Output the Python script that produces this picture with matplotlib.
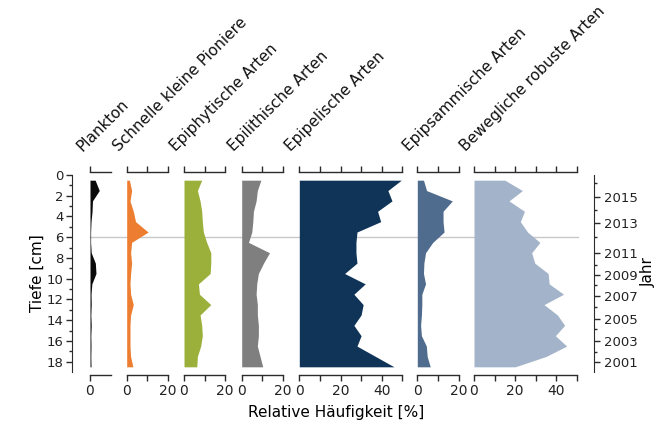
import matplotlib
matplotlib.use('Agg')
import matplotlib.pyplot as plt
import matplotlib.transforms as mtransforms
from matplotlib.lines import Line2D
import numpy as np

# sample depths (cm), one value per centimetre slice
depths = [0.5 + i for i in range(19)]

plankton = [2.5, 4.5, 1.2, 1.0, 0.5, 0.3, 0.3, 0.6, 2.6, 2.9, 0.9, 0.5, 0.6, 0.4, 0.6, 0.4, 0.5, 0.4, 0.5]
schnelle = [1.3, 2.4, 1.6, 3.2, 4.3, 10.4, 2.4, 1.9, 2.4, 1.9, 1.6, 1.9, 3.2, 1.9, 1.6, 1.6, 1.6, 1.9, 3.0]
epiphyt = [8.6, 6.5, 7.8, 8.6, 8.9, 9.4, 11.0, 13.0, 13.0, 12.7, 7.0, 7.5, 13.0, 7.8, 8.6, 8.9, 8.1, 6.5, 6.2]
epilith = [9.3, 7.6, 7.0, 5.7, 5.4, 4.9, 3.3, 13.5, 10.6, 8.1, 7.3, 7.0, 7.6, 7.6, 8.1, 8.1, 7.6, 8.9, 10.2]
epipel = [49.5, 43.0, 45.0, 38.0, 39.5, 28.0, 27.5, 27.5, 28.0, 22.0, 32.0, 26.5, 31.0, 30.0, 26.5, 30.0, 28.0, 37.0, 46.0]
epipsam = [3.0, 4.5, 17.0, 12.5, 12.5, 13.0, 7.5, 4.0, 3.2, 3.0, 4.0, 2.2, 2.2, 2.0, 1.6, 2.0, 4.4, 4.8, 6.3]
beweg = [15.0, 23.5, 17.0, 24.5, 22.5, 26.0, 32.0, 28.0, 29.5, 36.0, 36.5, 43.5, 34.0, 40.5, 44.0, 39.5, 45.0, 35.0, 20.0]

names = ['Plankton', 'Schnelle kleine Pioniere', 'Epiphytische Arten', 'Epilithische Arten',
         'Epipelische Arten', 'Epipsammische Arten', 'Bewegliche robuste Arten']
series = [plankton, schnelle, epiphyt, epilith, epipel, epipsam, beweg]
xmaxes = [10, 20, 20, 20, 50, 20, 50]
colors = ['#0a0a0a', '#ED7D31', '#9BB03A', '#7F7F7F', '#0F3458', '#4F6B8D', '#A3B4CA']

# year scale on the right (depth of each year mark)
years = [2015, 2013, 2011, 2009, 2007, 2005, 2003, 2001]
year_depths = [2.12, 4.65, 7.55, 9.63, 11.65, 13.87, 16.0, 18.0]
minor_year_depths = [0.8, 3.38, 5.96, 8.7, 10.6, 12.7, 14.9, 17.07]

marker_depth = 6

W, H = 657, 425
fig = plt.figure(figsize=(W / 100, H / 100), dpi=100)
y_top, y_bot = 175, 372
bottom = 1 - y_bot / H
height = (y_bot - y_top) / H
pxu = 2.06
lefts = [90, 126.7, 184, 241.7, 299.3, 417.3, 474]
spc = '#2b2b2b'

for name, vals, col, left, xmax in zip(names, series, colors, lefts, xmaxes):
    ax = fig.add_axes([left / W, bottom, xmax * pxu / W, height])
    ax.set_facecolor('none')
    ax.fill_betweenx(depths, 0, vals, color=col, lw=0)
    ax.set_xlim(0, xmax)
    ax.set_ylim(19, 0)
    for s in ['left', 'right']:
        ax.spines[s].set_visible(False)
    for s in ['top', 'bottom']:
        ax.spines[s].set_position(('outward', 2.2))
        ax.spines[s].set_color(spc)
        ax.spines[s].set_linewidth(1.0)
    ax.set_yticks([])
    if xmax == 10:
        ticks = [0]
    else:
        ticks = list(range(0, xmax + 1, 10))
    ax.set_xticks(ticks)
    ax.set_xticklabels([str(t) if t % 20 == 0 else '' for t in ticks])
    ax.tick_params(axis='x', top=True, bottom=True, labeltop=False, direction='out',
                   length=4, width=1.0, color=spc, labelsize=10, pad=2.5, labelcolor='#222222')
    fig.text((left - 8) / W, 1 - 152 / H, name, rotation=45, rotation_mode='anchor',
             ha='left', va='baseline', fontsize=11, color='#111111')

# depth axis
ax_d = fig.add_axes([71.7 / W, bottom, 0.0001, height])
ax_d.set_facecolor('none')
ax_d.set_ylim(19, 0)
for s in ['top', 'bottom', 'right']:
    ax_d.spines[s].set_visible(False)
ax_d.spines['left'].set_color(spc)
ax_d.set_xticks([])
ax_d.set_yticks(range(0, 19, 2))
ax_d.set_yticks(range(1, 18, 2), minor=True)
ax_d.tick_params(axis='y', which='major', length=4, width=1.0, color=spc, labelsize=9.5, pad=2, labelcolor='#222222')
ax_d.tick_params(axis='y', which='minor', length=2.5, width=1.0, color=spc)
ax_d.set_ylabel('Tiefe [cm]', fontsize=11, labelpad=1)

# year axis
ax_y = fig.add_axes([594 / W, bottom, 0.0001, height])
ax_y.set_facecolor('none')
ax_y.set_ylim(19, 0)
for s in ['top', 'bottom', 'left']:
    ax_y.spines[s].set_visible(False)
ax_y.spines['right'].set_color(spc)
ax_y.set_xticks([])
ax_y.yaxis.tick_right()
ax_y.set_yticks(year_depths)
ax_y.set_yticklabels([str(y) for y in years])
ax_y.set_yticks(minor_year_depths, minor=True)
ax_y.tick_params(axis='y', which='major', length=4.5, width=1.0, color=spc, labelsize=9.5, pad=2.5, labelcolor='#222222')
ax_y.tick_params(axis='y', which='minor', length=2.5, width=1.0, color=spc)
fig.text(648 / W, 1 - 272 / H, 'Jahr', rotation=90, ha='center', va='center', fontsize=11)

# horizontal marker line across all panels
tr = mtransforms.blended_transform_factory(fig.transFigure, ax_d.transData)
fig.add_artist(Line2D([90 / W, 578 / W], [marker_depth, marker_depth], transform=tr,
                      color='#c8c8c8', lw=1.0, zorder=-1))

fig.text(336 / W, 1 - 412 / H, 'Relative Häufigkeit [%]', ha='center', va='center', fontsize=11)

fig.savefig('out.png', dpi=100)
